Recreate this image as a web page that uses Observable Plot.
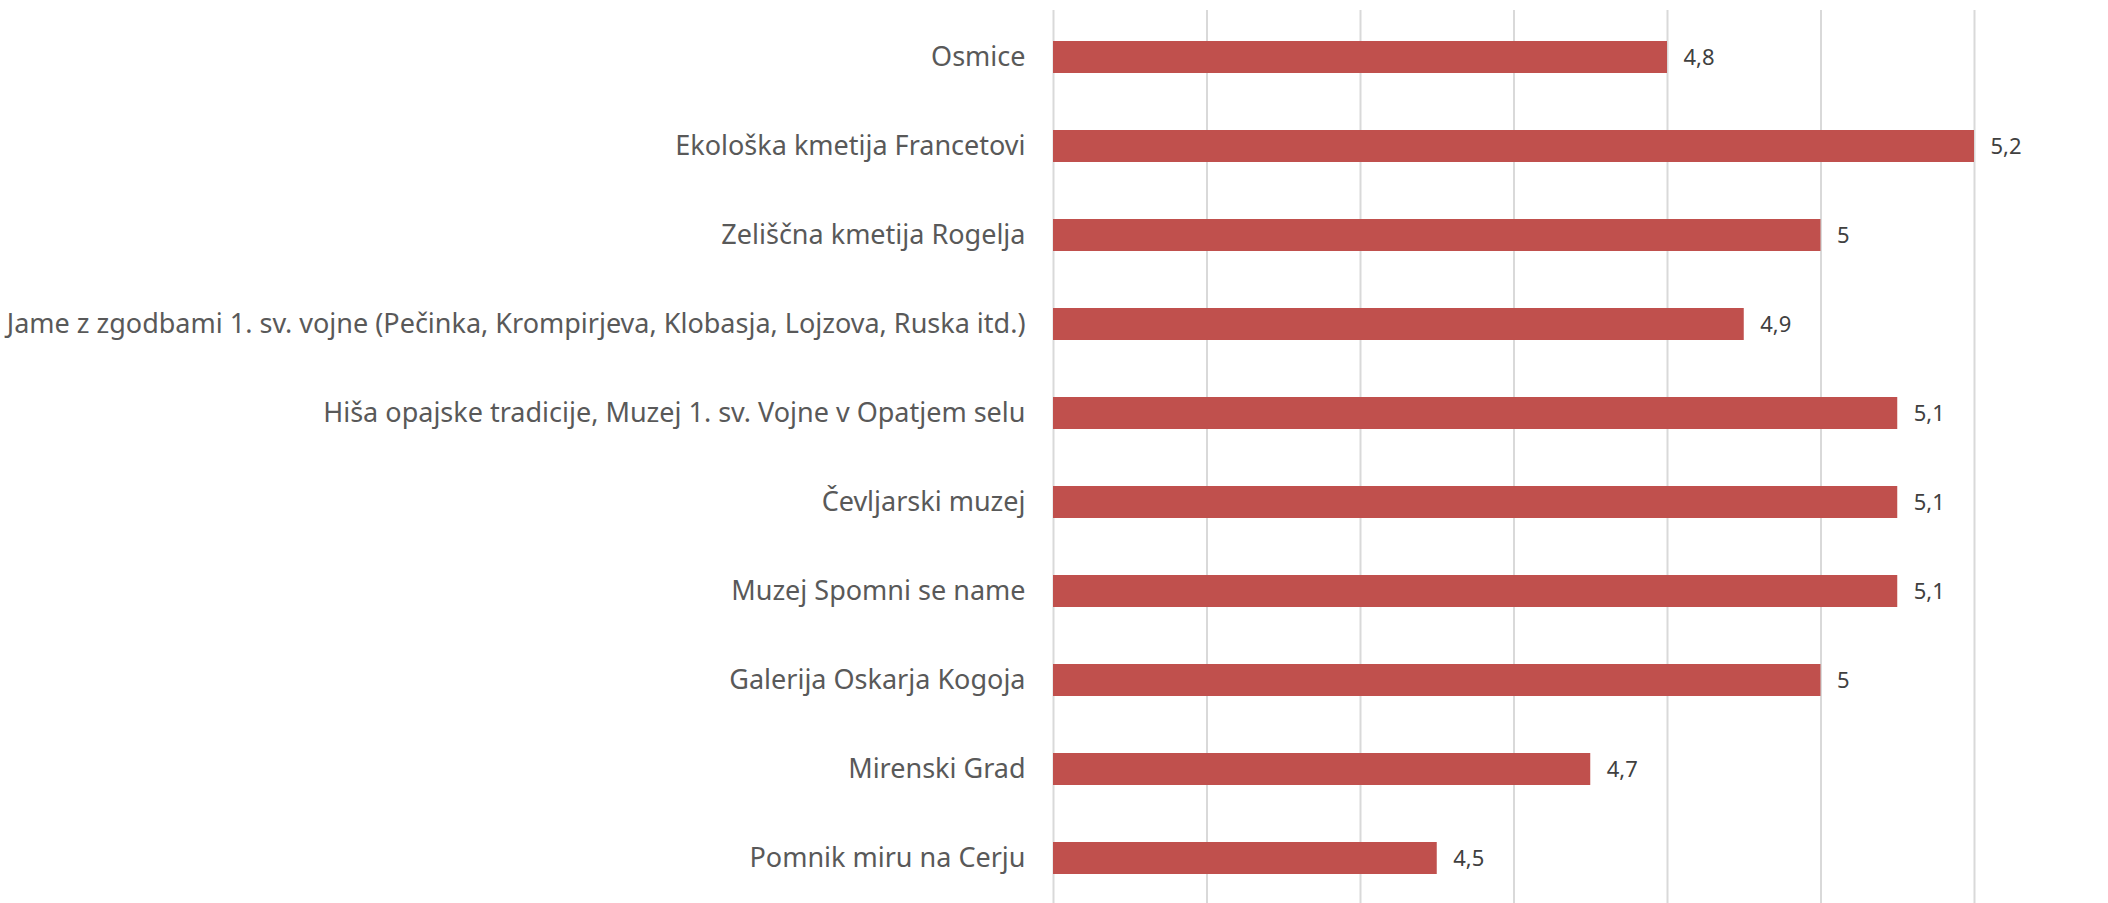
<!DOCTYPE html>
<html>
<head>
<meta charset="utf-8">
<script src="https://cdn.jsdelivr.net/npm/d3@7"></script>
<script src="https://cdn.jsdelivr.net/npm/@observablehq/plot@0.6"></script>
<style>
  html, body { margin: 0; padding: 0; background: #ffffff; overflow: hidden; }
  #chart svg { display: block; overflow: hidden; }
</style>
</head>
<body>
<div id="chart"></div>
<script>
const categories = [
  "Osmice",
  "Ekološka kmetija Francetovi",
  "Zeliščna kmetija Rogelja",
  "Jame z zgodbami 1. sv. vojne (Pečinka, Krompirjeva, Klobasja, Lojzova, Ruska itd.)",
  "Hiša opajske tradicije, Muzej 1. sv. Vojne v Opatjem selu",
  "Čevljarski muzej",
  "Muzej Spomni se name",
  "Galerija Oskarja Kogoja",
  "Mirenski Grad",
  "Pomnik miru na Cerju"
];
const values = [4.8, 5.2, 5.0, 4.9, 5.1, 5.1, 5.1, 5.0, 4.7, 4.5];
const xMin = 4.0;
const xMax = 5.2;
const gridTicks = [4.0, 4.2, 4.4, 4.6, 4.8, 5.0, 5.2];

const data = categories.map((c, i) => ({category: c, value: values[i], base: xMin}));
const fmt = v => String(v).replace(".", ",");

const chart = Plot.plot({
  width: 2108,
  height: 903,
  marginTop: 10,
  marginBottom: -3,
  marginLeft: 1053,
  marginRight: 134,
  style: {fontFamily: "'Noto Sans', Lato, sans-serif", background: "#ffffff"},
  x: {domain: [xMin, xMax], axis: null},
  y: {domain: categories, paddingInner: 0.64, paddingOuter: 0.32, label: null},
  marks: [
    Plot.gridX(gridTicks, {stroke: "#D9D9D9", strokeWidth: 2, strokeOpacity: 1}),
    Plot.barX(data, {y: "category", x1: "base", x2: "value", fill: "#C0504D"}),
    Plot.text(data, {y: "category", x: "value", text: d => fmt(d.value), dx: 16, textAnchor: "start", fontSize: 22, fill: "#404040"}),
    Plot.axisY({tickSize: 0, tickPadding: 28, fontSize: 27, color: "#595959", label: null})
  ]
});
document.getElementById("chart").appendChild(chart);
</script>
</body>
</html>
